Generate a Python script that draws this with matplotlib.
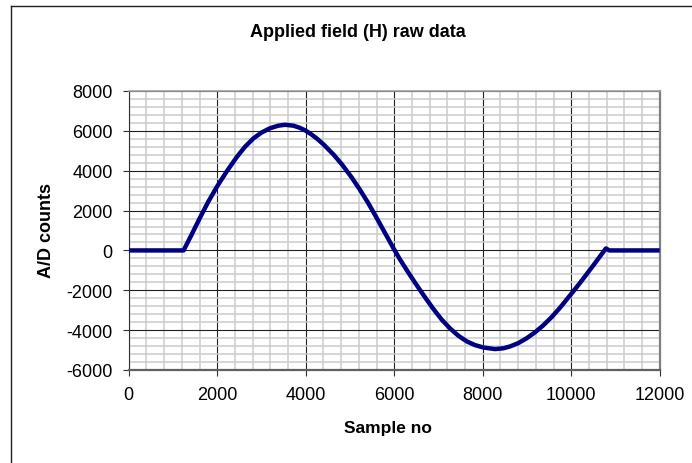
import matplotlib.pyplot as plt
from matplotlib.lines import Line2D
from matplotlib.ticker import MultipleLocator

plt.rcParams['font.family'] = ['Liberation Sans', 'DejaVu Sans']
plt.rcParams['axes.unicode_minus'] = False

# values
sample_no = [0, 1240, 1424, 1611, 1800, 2000, 2214, 2440, 2628, 2817, 3005,
             3193, 3382, 3532, 3721, 3871, 4000, 4136, 4249, 4398, 4625,
             4814, 5040, 5227, 5415, 5604, 5831, 5980, 6130, 6319, 6507,
             6696, 6883, 7073, 7260, 7449, 7636, 7826, 8013, 8277, 8466,
             8616, 8805, 8992, 9182, 9368, 9560, 9745, 10009, 10199, 10346,
             10500, 10647, 10785, 10862, 12000]
ad_counts = [0, 0, 804, 1643, 2450, 3220, 3960, 4680, 5200, 5620, 5920,
             6130, 6260, 6305, 6260, 6150, 6010, 5810, 5620, 5330, 4820,
             4330, 3660, 3040, 2370, 1630, 720, 120, -450, -1110, -1740,
             -2350, -2930, -3470, -3910, -4280, -4560, -4750, -4870, -4950, -4910,
             -4820, -4650, -4410, -4110, -3760, -3340, -2880, -2160, -1630, -1200,
             -750, -310, 100, 0, 0]

x_ticks = [0, 2000, 4000, 6000, 8000, 10000, 12000]
y_ticks = [-6000, -4000, -2000, 0, 2000, 4000, 6000, 8000]

W, H = 692, 464
fig = plt.figure(figsize=(W / 100, H / 100), dpi=100)

# chart area border: only its left and top edges are inside the crop
x0, y0 = 11.5 / W, 1 - 6.5 / H
fig.add_artist(Line2D([x0, x0], [-0.05, y0], transform=fig.transFigure,
                      color='#202020', linewidth=1.0))
fig.add_artist(Line2D([x0, 1.05], [y0, y0], transform=fig.transFigure,
                      color='#202020', linewidth=1.0))

ax = fig.add_axes([128.7 / W, 1 - 371 / H, 531 / W, 279 / H])
ax.plot(sample_no, ad_counts, color='#000080', linewidth=3.2,
        solid_joinstyle='round', solid_capstyle='butt', zorder=3)

ax.set_xlim(0, 12000)
ax.set_ylim(-6000, 8000)
ax.set_xticks(x_ticks)
ax.set_yticks(y_ticks)
ax.xaxis.set_minor_locator(MultipleLocator(400))
ax.yaxis.set_minor_locator(MultipleLocator(400))

ax.grid(which='minor', color='#cccccc', linewidth=1.1, zorder=0)
ax.grid(which='major', color='#202020', linewidth=0.8, zorder=1)
ax.set_axisbelow(True)

ax.tick_params(which='major', direction='out', length=4.5, width=0.8,
               color='#303030', labelsize=13, pad=7)
ax.tick_params(which='minor', length=0)

ax.spines['left'].set_color('#303030')
ax.spines['bottom'].set_color('#606060')
ax.spines['bottom'].set_linewidth(1.6)
ax.spines['right'].set_color('#808080')
ax.spines['right'].set_linewidth(1.6)
ax.spines['top'].set_color('#a0a0a0')
ax.spines['top'].set_linewidth(1.2)

fig.text(358 / W, 1 - 37.3 / H, 'Applied field (H) raw data', ha='center',
         va='baseline', fontsize=13, fontweight='bold')
fig.text(388 / W, 1 - 432.7 / H, 'Sample no', ha='center', va='baseline',
         fontsize=12.5, fontweight='bold')
fig.text(46.5 / W, 1 - 231 / H, 'A/D counts', ha='center', va='center',
         rotation=90, fontsize=13, fontweight='bold')

fig.savefig('out.png', dpi=100)
